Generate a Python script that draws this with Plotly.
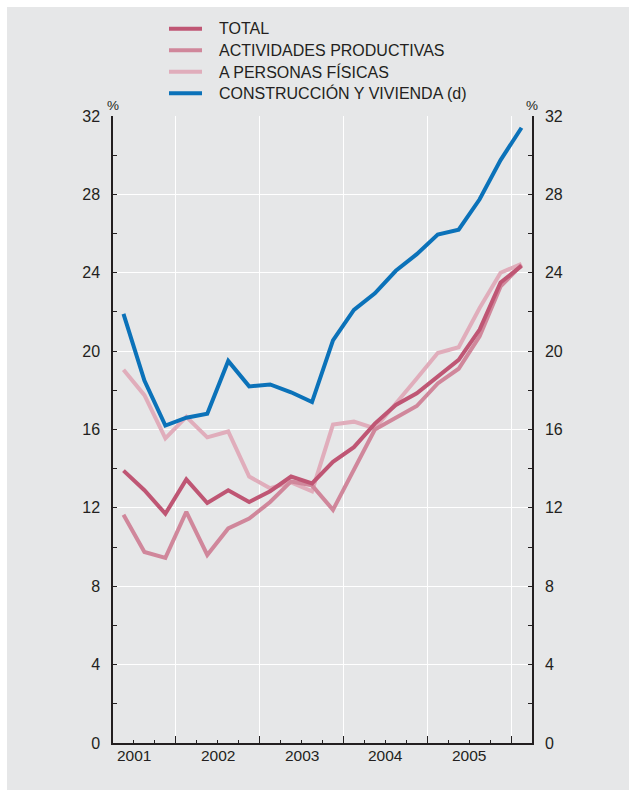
import plotly.graph_objects as go

# Quarterly series, 2001-II to 2006-I
quarters = [
    "2001-II", "2001-III", "2001-IV",
    "2002-I", "2002-II", "2002-III", "2002-IV",
    "2003-I", "2003-II", "2003-III", "2003-IV",
    "2004-I", "2004-II", "2004-III", "2004-IV",
    "2005-I", "2005-II", "2005-III", "2005-IV",
    "2006-I",
]
total = [13.9, 12.9, 11.7, 13.45, 12.25, 12.9, 12.3, 12.85, 13.6, 13.25,
         14.35, 15.1, 16.3, 17.25, 17.85, 18.7, 19.55, 21.1, 23.5, 24.35]
actividades = [11.65, 9.75, 9.45, 11.8, 9.6, 10.95, 11.45, 12.3, 13.35, 13.15,
               11.9, 14.0, 16.0, 16.6, 17.2, 18.35, 19.1, 20.75, 23.3, 24.4]
personas = [19.05, 17.75, 15.55, 16.65, 15.6, 15.9, 13.6, 13.0, 13.3, 12.85,
            16.25, 16.4, 16.05, 17.3, 18.6, 19.9, 20.2, 22.2, 24.0, 24.45]
# plotted against the right-hand axis
construccion = [21.9, 18.5, 16.2, 16.6, 16.8, 19.5, 18.2, 18.3, 17.9, 17.4,
                20.55, 22.1, 22.95, 24.1, 24.95, 25.95, 26.2, 27.75, 29.75, 31.4]

years = [2001, 2002, 2003, 2004, 2005]
y_ticks = [0, 4, 8, 12, 16, 20, 24, 28, 32]

# name, values, colour, y-axis
series = [
    ("TOTAL", total, "#bf5674", "y"),
    ("ACTIVIDADES PRODUCTIVAS", actividades, "#d0879b", "y"),
    ("A PERSONAS FÍSICAS", personas, "#e0adbb", "y"),
    ("CONSTRUCCIÓN Y VIVIENDA (d)", construccion, "#0b72b9", "y2"),
]

ROMAN = {"I": 0, "II": 1, "III": 2, "IV": 3}


def quarter_pos(label):
    """Place a quarter at the middle of its span on a fractional-year axis."""
    y, q = label.split("-")
    return int(y) + ROMAN[q] * 0.25 + 0.125


xq = [quarter_pos(q) for q in quarters]

FONT = "Liberation Sans, Arial, Helvetica, sans-serif"
TXT = "#231f20"
BG = "#e6e7e8"
W, H = 629, 794
ML, MR, MT, MB = 113, 97, 116, 51
PW, PH = W - ML - MR, H - MT - MB


def px_x(px):
    return (px - ML) / PW


def px_y(py):
    return (H - MB - py) / PH


fig = go.Figure()

# draw light series first so the darker ones sit on top
for name, vals, color, axis in [series[2], series[1], series[0], series[3]]:
    fig.add_trace(go.Scatter(
        x=xq, y=vals, mode="lines", name=name, yaxis=axis,
        line=dict(color=color, width=4), showlegend=False,
    ))

# grey panel behind the chart
shapes = [dict(type="rect", xref="paper", yref="paper", layer="below",
               x0=px_x(7), x1=px_x(629), y0=px_y(790), y1=px_y(7),
               fillcolor=BG, line=dict(width=0))]

annotations = []
# legend block
for i, (name, vals, color, axis) in enumerate(series):
    cy = 28.7 + i * 21.5
    shapes.append(dict(type="line", xref="paper", yref="paper",
                       x0=px_x(169), x1=px_x(202), y0=px_y(cy), y1=px_y(cy),
                       line=dict(color=color, width=4)))
    annotations.append(dict(xref="paper", yref="paper", x=px_x(217), y=px_y(cy),
                            xanchor="left", yanchor="middle", showarrow=False,
                            text=name, font=dict(family=FONT, size=16, color=TXT)))

# year labels centred on each year
for yr in years:
    annotations.append(dict(xref="x", yref="paper", x=yr + 0.5, y=0,
                            xanchor="center", yanchor="middle", yshift=-12,
                            showarrow=False, text=str(yr),
                            font=dict(family=FONT, size=15.5, color=TXT)))

# percent signs above both axes
for xp in (0, 1):
    annotations.append(dict(xref="paper", yref="paper", x=xp, y=1,
                            xanchor="center", yanchor="middle", yshift=11,
                            showarrow=False, text="%",
                            font=dict(family=FONT, size=13.5, color=TXT)))

yaxis_common = dict(
    range=[0, 32], tickvals=y_ticks, ticktext=[str(v) for v in y_ticks],
    ticks="inside", ticklen=4, tickwidth=1, tickcolor=TXT,
    minor=dict(tickvals=list(range(0, 33, 2)), ticks="inside", ticklen=4,
               tickwidth=1, tickcolor=TXT, showgrid=False),
    showline=True, linecolor=TXT, linewidth=1.5,
    tickfont=dict(family=FONT, size=16, color=TXT),
    ticklabelstandoff=8, zeroline=False, fixedrange=True,
)

fig.update_layout(
    width=W, height=H,
    margin=dict(l=ML, r=MR, t=MT, b=MB, pad=0),
    paper_bgcolor="white", plot_bgcolor=BG,
    shapes=shapes, annotations=annotations,
    showlegend=False,
    xaxis=dict(
        range=[2001.25, 2006.25],
        tickvals=[y + 1 for y in years], ticktext=[""] * len(years),
        ticks="inside", ticklen=7, tickwidth=1, tickcolor=TXT,
        minor=dict(tick0=2001.25, dtick=0.25, ticks="inside", ticklen=3,
                   tickwidth=1, tickcolor=TXT, showgrid=False),
        showgrid=True, gridcolor="white", gridwidth=1.3,
        showline=True, linecolor=TXT, linewidth=1.5,
        zeroline=False, fixedrange=True,
    ),
    yaxis=dict(side="left", showgrid=True, gridcolor="white", gridwidth=1.3,
               **yaxis_common),
    yaxis2=dict(side="right", overlaying="y", showgrid=False, **yaxis_common),
)

fig.write_html("out.html")
